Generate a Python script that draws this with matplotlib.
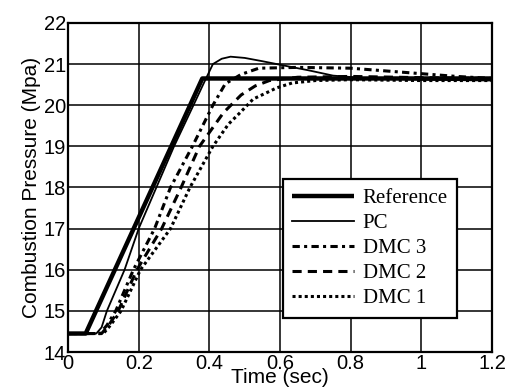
import matplotlib
matplotlib.use("Agg")
import matplotlib.pyplot as plt

# time (s) / pressure (MPa)
t_ref = [0.0, 0.05, 0.38, 1.2]
p_ref = [14.45, 14.45, 20.65, 20.65]

t_pc = [0.0, 0.08, 0.095, 0.11, 0.16, 0.20, 0.25, 0.30, 0.355, 0.385, 0.41,
        0.435, 0.46, 0.50, 0.55, 0.62, 0.68, 0.75, 0.85, 1.0, 1.2]
p_pc = [14.45, 14.45, 14.6, 15.0, 16.0, 17.0, 18.0, 19.0, 20.0, 20.55, 21.0,
        21.13, 21.18, 21.15, 21.07, 20.95, 20.85, 20.72, 20.65, 20.62, 20.6]

t_dmc3 = [0.0, 0.09, 0.11, 0.135, 0.185, 0.245, 0.29, 0.352, 0.41, 0.445,
          0.49, 0.54, 0.65, 0.8, 0.95, 1.1, 1.2]
p_dmc3 = [14.45, 14.45, 14.65, 15.0, 16.0, 17.0, 18.0, 19.0, 20.0, 20.52,
          20.75, 20.9, 20.92, 20.9, 20.8, 20.7, 20.65]

t_dmc2 = [0.0, 0.095, 0.115, 0.142, 0.195, 0.265, 0.32, 0.372, 0.44, 0.49,
          0.53, 0.57, 0.65, 0.8, 1.0, 1.2]
p_dmc2 = [14.45, 14.45, 14.65, 15.0, 16.0, 17.0, 18.0, 19.0, 19.82, 20.25,
          20.47, 20.6, 20.68, 20.7, 20.67, 20.65]

t_dmc1 = [0.0, 0.1, 0.12, 0.15, 0.205, 0.29, 0.345, 0.41, 0.454, 0.487,
          0.524, 0.566, 0.59, 0.634, 0.7, 0.8, 1.0, 1.2]
p_dmc1 = [14.45, 14.45, 14.65, 15.0, 16.0, 17.0, 18.0, 19.0, 19.54, 19.82,
          20.15, 20.32, 20.42, 20.54, 20.6, 20.62, 20.6, 20.6]

xticks = [0, 0.2, 0.4, 0.6, 0.8, 1, 1.2]
xticklabels = ["0", "0.2", "0.4", "0.6", "0.8", "1", "1.2"]
yticks = list(range(14, 23))

plt.rcParams["font.family"] = ["Liberation Sans", "DejaVu Sans"]

fig = plt.figure(figsize=(5.05, 3.89), dpi=100)
ax = fig.add_axes([0.1347, 0.095, 0.8396, 0.846])

ax.plot(t_ref, p_ref, color="black", lw=3.2, label="Reference", solid_capstyle="butt")
ax.plot(t_pc, p_pc, color="black", lw=1.3, label="PC")
ax.plot(t_dmc3, p_dmc3, color="black", lw=2.2, dashes=(2.4, 1.4, 1.0, 1.4), label="DMC 3")
ax.plot(t_dmc2, p_dmc2, color="black", lw=2.2, dashes=(3.0, 2.0), label="DMC 2")
ax.plot(t_dmc1, p_dmc1, color="black", lw=2.2, dashes=(1.0, 1.0), label="DMC 1")

ax.set_xlim(0, 1.2)
ax.set_ylim(14, 22)
ax.set_xticks(xticks)
ax.set_xticklabels(xticklabels)
ax.set_yticks(yticks)
ax.tick_params(labelsize=14.5, length=0)
ax.tick_params(axis="x", pad=1.5)
ax.tick_params(axis="y", pad=1.5)
ax.grid(True, color="black", lw=1.1)
for s in ax.spines.values():
    s.set_linewidth(1.6)

ax.set_xlabel("Time (sec)", fontsize=15, labelpad=-3.5)
ax.set_ylabel("Combustion Pressure (Mpa)", fontsize=15, labelpad=2)

leg = ax.legend(loc="upper left", bbox_to_anchor=(0.506, 0.525), borderaxespad=0,
                prop={"family": "Liberation Serif", "size": 15}, handlelength=3.0,
                handletextpad=0.4, labelspacing=0.26, fancybox=False,
                framealpha=1, edgecolor="black", borderpad=0.45)
leg.get_frame().set_linewidth(1.6)

fig.savefig("out.png", dpi=100)
